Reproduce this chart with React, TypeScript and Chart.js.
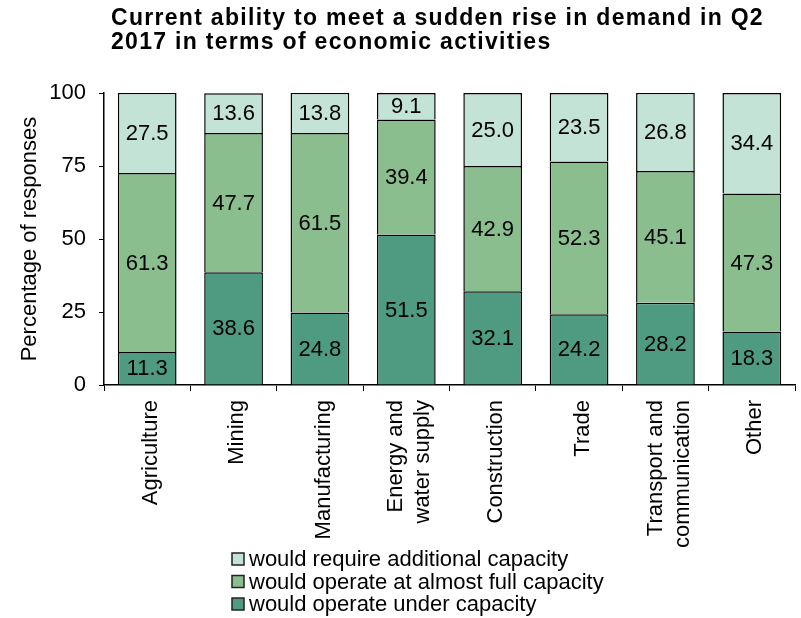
import React, { useEffect, useRef } from "react";
import { Chart, registerables } from "chart.js";

Chart.register(...registerables);

const categories: string[][] = [
  ["Agriculture"],
  ["Mining"],
  ["Manufacturing"],
  ["Energy and", "water supply"],
  ["Construction"],
  ["Trade"],
  ["Transport and", "communication"],
  ["Other"],
];

const underCapacity = [11.3, 38.6, 24.8, 51.5, 32.1, 24.2, 28.2, 18.3];
const almostFull = [61.3, 47.7, 61.5, 39.4, 42.9, 52.3, 45.1, 47.3];
const additional = [27.5, 13.6, 13.8, 9.1, 25.0, 23.5, 26.8, 34.4];

const seriesNames = [
  "would operate under capacity",
  "would operate at almost full capacity",
  "would require additional capacity",
];

const yTicks = [0, 25, 50, 75, 100];

const titleLines = [
  "Current ability to meet a sudden rise in demand in Q2",
  "2017 in terms of economic activities",
];

const COLORS = ["#4E9B81", "#8BBE8E", "#C2E3D5"];
const FONT = "'Liberation Sans', Arial, sans-serif";

const titlePlugin = {
  id: "customTitle",
  afterDraw(chart: any) {
    const ctx = chart.ctx;
    ctx.save();
    ctx.font = `bold 23px ${FONT}`;
    try {
      (ctx as any).letterSpacing = "1.3px";
    } catch (e) {}
    ctx.fillStyle = "#000";
    ctx.textAlign = "left";
    ctx.textBaseline = "alphabetic";
    titleLines.forEach((t, i) => {
      ctx.fillText(t, 111, 25 + i * 24);
    });
    ctx.restore();
  },
};

const xLabels = {
  id: "xLabels",
  afterDraw(chart: any) {
    const ctx = chart.ctx;
    const xs = chart.scales.x;
    ctx.save();
    ctx.font = `22px ${FONT}`;
    ctx.fillStyle = "#000";
    ctx.textAlign = "right";
    ctx.textBaseline = "middle";
    const lh = 27;
    categories.forEach((lines, i) => {
      const cx = xs.getPixelForValue(i) + 3.5;
      const top = xs.top + 15;
      lines.forEach((line, j) => {
        const off = (j - (lines.length - 1) / 2) * lh;
        ctx.save();
        ctx.translate(cx + off, top);
        ctx.rotate(-Math.PI / 2);
        ctx.fillText(line, 0, 0);
        ctx.restore();
      });
    });
    ctx.restore();
  },
};

const valueLabels = {
  id: "valueLabels",
  afterDatasetsDraw(chart: any) {
    const ctx = chart.ctx;
    ctx.save();
    ctx.font = `22px ${FONT}`;
    ctx.fillStyle = "#000";
    ctx.textAlign = "center";
    ctx.textBaseline = "middle";
    chart.data.datasets.forEach((ds: any, di: number) => {
      const meta = chart.getDatasetMeta(di);
      meta.data.forEach((bar: any, i: number) => {
        const v = ds.data[i];
        const y = (bar.y + bar.base) / 2;
        ctx.fillText(v.toFixed(1), bar.x, y + 1);
      });
    });
    ctx.restore();
  },
};

const customLegend = {
  id: "customLegend",
  afterDraw(chart: any) {
    const ctx = chart.ctx;
    ctx.save();
    ctx.font = `22px ${FONT}`;
    ctx.textBaseline = "middle";
    ctx.textAlign = "left";
    const x = 232;
    const y0 = 559;
    const step = 22.5;
    const order = [2, 1, 0];
    order.forEach((di, row) => {
      const y = y0 + row * step;
      ctx.fillStyle = COLORS[di];
      ctx.fillRect(x, y - 6, 12, 12);
      ctx.strokeStyle = "#222";
      ctx.lineWidth = 1.5;
      ctx.strokeRect(x, y - 6, 12, 12);
      ctx.fillStyle = "#000";
      ctx.fillText(seriesNames[di], x + 17, y + 1);
    });
    ctx.restore();
  },
};

export default function App() {
  const ref = useRef<HTMLCanvasElement | null>(null);

  useEffect(() => {
    document.body.style.margin = "0";
    if (!ref.current) return;
    const datasets = [underCapacity, almostFull, additional].map((d, i) => ({
      label: seriesNames[i],
      data: d,
      backgroundColor: COLORS[i],
      borderColor: "#000",
      borderWidth: 1.5,
      barPercentage: 0.68,
      categoryPercentage: 1,
    }));
    const chart = new Chart(ref.current, {
      type: "bar",
      data: { labels: categories.map((c) => c.join(" ")), datasets },
      options: {
        animation: false,
        responsive: false,
        maintainAspectRatio: false,
        layout: { padding: { left: 0, right: 6, top: 93, bottom: 0 } },
        plugins: {
          legend: { display: false },
          tooltip: { enabled: false },
          title: { display: false },
        },
        scales: {
          x: {
            stacked: true,
            grid: {
              offset: true,
              drawOnChartArea: false,
              drawTicks: true,
              tickLength: 6,
              color: "#000",
            },
            border: { color: "#000", width: 1.5 },
            ticks: { display: false, autoSkip: false },
            afterFit: (s: any) => {
              s.height = 233;
            },
          },
          y: {
            stacked: true,
            min: 0,
            max: 100,
            afterBuildTicks: (s: any) => {
              s.ticks = yTicks.map((v) => ({ value: v }));
            },
            grid: {
              drawOnChartArea: false,
              drawTicks: true,
              tickLength: 5,
              color: "#000",
            },
            border: { color: "#000", width: 1.5 },
            ticks: {
              color: "#000",
              font: { family: FONT, size: 22 },
              padding: 13,
            },
            title: {
              display: true,
              text: "Percentage of responses",
              color: "#000",
              font: { family: FONT, size: 22 },
              padding: { top: 17, bottom: 0 },
            },
            afterFit: (s: any) => {
              s.width = 104;
            },
          },
        },
      },
      plugins: [valueLabels, xLabels, customLegend, titlePlugin],
    });
    return () => chart.destroy();
  }, []);

  return (
    <div style={{ width: 801, height: 618, background: "#fff" }}>
      <canvas ref={ref} width={801} height={618} style={{ width: 801, height: 618 }} />
    </div>
  );
}
